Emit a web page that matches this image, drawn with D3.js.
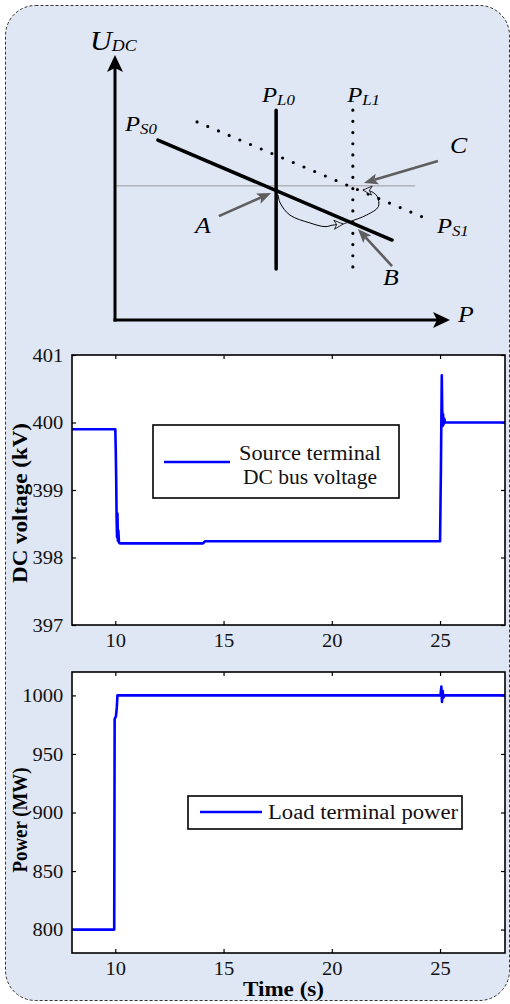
<!DOCTYPE html>
<html><head><meta charset="utf-8">
<script src="https://cdn.jsdelivr.net/npm/d3@7"></script>
<style>body{margin:0;background:#fff} svg{display:block} text{font-family:"Liberation Serif","Times New Roman",serif;}</style>
</head><body>
<script>
// ---------------- Data ----------------
const timeTicks = [10, 15, 20, 25];
const voltTicks = [397, 398, 399, 400, 401];
const powerTicks = [800, 850, 900, 950, 1000];

const voltTime  = [8, 10.0, 10.02, 10.04, 10.06, 10.08, 10.1, 10.12, 10.14, 10.17, 10.22, 14.05, 14.15, 25.0, 25.04, 25.08, 25.1, 25.12, 25.14, 25.16, 25.19, 25.23, 25.3, 28];
const voltValue = [399.9, 399.9, 399.6, 399.2, 398.6, 398.3, 398.65, 398.25, 398.4, 398.22, 398.21, 398.21, 398.24, 398.24, 399.3, 400.7, 400.2, 399.95, 400.12, 399.97, 400.06, 400.0, 400.0, 400.0];

const powerTime  = [8, 9.95, 9.97, 10.03, 10.07, 10.1, 25.02, 25.06, 25.09, 25.12, 25.15, 25.2, 28];
const powerValue = [800, 800, 980, 982, 990, 1000, 1000, 1007.5, 994.5, 1004, 998, 1000, 1000];

const voltLegend = ["Source terminal", "DC bus voltage"];
const powerLegend = ["Load terminal power"];

// ---------------- Schematic (abstract P / U units) ----------------
const loadLines = [
  {name: "L0", p: 48.1, u0: 19.4, u1: 79.8, dotted: false},
  {name: "L1", p: 71.0, u0: 19.4, u1: 79.8, dotted: true}
];
const sourceLines = [
  {name: "S0", p0: 12.8, u0: 68.4, p1: 82.7, u1: 30.4, dotted: false},
  {name: "S1", p0: 24.5, u0: 75.3, p1: 94.0, u1: 38.0, dotted: true}
];
const refLevel = {u: 51.0, p0: 0, p1: 89.6};
const pointerArrows = [
  {name: "A", from: [31.0, 39.5], to: [46.6, 48.3]},
  {name: "B", from: [82.7, 20.5], to: [72.5, 34.6]},
  {name: "C", from: [96.4, 60.5], to: [74.3, 52.1]}
];
const trajectory1 = [[48.7, 47.5], [49.3, 44.5], [52.2, 39.9], [58.2, 36.9], [62.7, 35.5], [65.1, 36.1], [68.1, 36.5]];
const trajectory2 = [[68.1, 36.5], [70.1, 37.4], [75.1, 39.9], [78.6, 43.1], [78.3, 46.9], [76.6, 48.8], [74.0, 49.4]];
const diagramLabels = [
  {main: "U", sub: "DC", p: -7.5, u: 102.7, size: 27, subSize: 16, shift: 1},
  {main: "P", sub: "L0", p: 43.9, u: 82.9, size: 22, subSize: 15, shift: 3},
  {main: "P", sub: "L1", p: 69.3, u: 82.9, size: 22, subSize: 15, shift: 3},
  {main: "P", sub: "S0", p: 3.0, u: 71.9, size: 22, subSize: 15, shift: 3},
  {main: "P", sub: "S1", p: 96.1, u: 33.1, size: 22, subSize: 15, shift: 3},
  {main: "A", sub: "", p: 23.9, u: 33.1, size: 23, subSize: 15, shift: 0},
  {main: "B", sub: "", p: 80.0, u: 13.3, size: 23, subSize: 15, shift: 0},
  {main: "C", sub: "", p: 100.0, u: 63.5, size: 23, subSize: 15, shift: 0},
  {main: "P", sub: "", p: 102.4, u: -0.8, size: 23, subSize: 15, shift: 0}
];

// ---------------- Drawing ----------------
const W = 510, H = 1004;
const BG = "#dfe6f4";
const SERIF = '"Liberation Serif","Times New Roman",serif';
const STRETCH = 1.12;
const svg = d3.select("body").append("svg").attr("width", W).attr("height", H);
svg.append("rect").attr("width", W).attr("height", H).attr("fill", "#fff");
svg.append("rect").attr("x", 5.5).attr("y", 5.5).attr("width", 504).attr("height", 995)
  .attr("rx", 30).attr("ry", 30).attr("fill", BG)
  .attr("stroke", "#333").attr("stroke-width", 1).attr("stroke-dasharray", "3,2");

const defs = svg.append("defs");
function marker(id, path, refX, w, h, fill, stroke) {
  const m = defs.append("marker").attr("id", id).attr("markerUnits", "userSpaceOnUse")
    .attr("viewBox", `-2 ${-h/2-1} ${w+4} ${h+2}`).attr("markerWidth", w + 4).attr("markerHeight", h + 2)
    .attr("refX", refX).attr("refY", 0).attr("orient", "auto");
  m.append("path").attr("d", path).attr("fill", fill).attr("stroke", stroke || "none").attr("stroke-width", 0.8);
}
marker("axisHead", "M0,-8 L17,0 L0,8 L4,0 Z", 4, 17, 16, "#000");
marker("grayHead", "M0,-5.5 L14,0 L0,5.5 L3,0 Z", 3, 14, 11, "#5e5e5e");
marker("openHead", "M0,-4.5 L9,0 L0,4.5 L2.5,0 Z", 9, 9, 9, BG, "#000");

const sx = d3.scaleLinear().domain([0, 100]).range([115, 450]);
const sy = d3.scaleLinear().domain([0, 100]).range([320, 57]);
const dg = svg.append("g");

function shortened(x1, y1, x2, y2, d) {
  const L = Math.hypot(x2 - x1, y2 - y1);
  return [x2 - (x2 - x1) * d / L, y2 - (y2 - y1) * d / L];
}
dg.append("line").attr("x1", sx(refLevel.p0)).attr("x2", sx(refLevel.p1))
  .attr("y1", sy(refLevel.u)).attr("y2", sy(refLevel.u)).attr("stroke", "#9a9a9a").attr("stroke-width", 1);
{
  const e = shortened(sx(0), sy(0), sx(0), 55, 13);
  dg.append("line").attr("x1", sx(0)).attr("y1", sy(0)+1.5).attr("x2", e[0]).attr("y2", e[1])
    .attr("stroke", "#000").attr("stroke-width", 3).attr("marker-end", "url(#axisHead)");
  const f = shortened(sx(0), sy(0), 450, sy(0), 13);
  dg.append("line").attr("x1", sx(0)-1.5).attr("y1", sy(0)).attr("x2", f[0]).attr("y2", f[1])
    .attr("stroke", "#000").attr("stroke-width", 3).attr("marker-end", "url(#axisHead)");
}
dg.selectAll(".ll").data(loadLines).join("line")
  .attr("x1", d => sx(d.p)).attr("x2", d => sx(d.p)).attr("y1", d => sy(d.u1)).attr("y2", d => sy(d.u0))
  .attr("stroke", "#000").attr("stroke-width", d => d.dotted ? 3.2 : 3.5)
  .attr("stroke-linecap", "round").attr("stroke-dasharray", d => d.dotted ? "0,11.2" : null);
dg.selectAll(".sl").data(sourceLines).join("line")
  .attr("x1", d => sx(d.p0)).attr("y1", d => sy(d.u0)).attr("x2", d => sx(d.p1)).attr("y2", d => sy(d.u1))
  .attr("stroke", "#000").attr("stroke-width", d => d.dotted ? 3.2 : 3.5)
  .attr("stroke-linecap", "round").attr("stroke-dasharray", d => d.dotted ? "0,11.6" : null);
const traj = d3.line().x(d => sx(d[0])).y(d => sy(d[1])).curve(d3.curveCatmullRom);
[trajectory1, trajectory2].forEach(t => {
  dg.append("path").attr("d", traj(t)).attr("fill", "none").attr("stroke", "#000").attr("stroke-width", 1)
    .attr("marker-end", "url(#openHead)");
});
pointerArrows.forEach(a => {
  const x1 = sx(a.from[0]), y1 = sy(a.from[1]), x2 = sx(a.to[0]), y2 = sy(a.to[1]);
  const e = shortened(x1, y1, x2, y2, 11);
  dg.append("line").attr("x1", x1).attr("y1", y1).attr("x2", e[0]).attr("y2", e[1])
    .attr("stroke", "#5e5e5e").attr("stroke-width", 2.6).attr("marker-end", "url(#grayHead)");
});
diagramLabels.forEach(l => {
  const t = dg.append("text").attr("transform", `translate(${sx(l.p)},${sy(l.u)}) scale(${STRETCH},1)`)
    .attr("font-style", "italic").attr("font-size", l.size).attr("fill", "#000");
  t.append("tspan").text(l.main);
  if (l.sub) t.append("tspan").attr("font-size", l.subSize).attr("dy", l.shift).text(l.sub);
});

// ---------------- Time series charts ----------------
function chart(opt) {
  const x = d3.scaleLinear().domain([8, 28]).range([72, 505]);
  const y = d3.scaleLinear().domain(opt.domain).range([opt.bottom, opt.top]);
  const g = svg.append("g");
  g.append("rect").attr("x", x.range()[0]).attr("y", opt.top).attr("width", x.range()[1] - x.range()[0])
    .attr("height", opt.bottom - opt.top).attr("fill", "#fff");

  const styleAxis = sel => {
    sel.attr("font-family", null).attr("font-size", null);
    sel.select(".domain").remove();
    sel.selectAll(".tick line").attr("stroke", "#000").attr("stroke-width", 1.2);
    sel.selectAll(".tick text").attr("fill", "#111")
      .style("font-family", SERIF).style("font-size", "19px")
      .attr("transform", `scale(${1.08},1)`);
  };
  const fmt = d3.format("d");
  g.append("g").attr("transform", `translate(0,${opt.bottom})`)
    .call(d3.axisBottom(x).tickValues(timeTicks).tickFormat(fmt).tickSizeInner(-4).tickSizeOuter(0).tickPadding(8.5)).call(styleAxis);
  g.append("g").attr("transform", `translate(0,${opt.top})`)
    .call(d3.axisTop(x).tickValues(timeTicks).tickSizeInner(-4).tickSizeOuter(0).tickFormat("")).call(styleAxis);
  g.append("g").attr("transform", `translate(${x.range()[0]},0)`)
    .call(d3.axisLeft(y).tickValues(opt.ticks).tickFormat(fmt).tickSizeInner(-4).tickSizeOuter(0).tickPadding(8)).call(styleAxis);
  g.append("g").attr("transform", `translate(${x.range()[1]},0)`)
    .call(d3.axisRight(y).tickValues(opt.ticks).tickSizeInner(-4).tickSizeOuter(0).tickFormat("")).call(styleAxis);

  const pts = opt.t.map((t, i) => [t, opt.v[i]]);
  g.append("path").attr("d", d3.line().x(d => x(d[0])).y(d => y(d[1]))(pts))
    .attr("fill", "none").attr("stroke", "#0000ff").attr("stroke-width", 2.6).attr("stroke-linejoin", "round");

  g.append("rect").attr("x", x.range()[0]).attr("y", opt.top).attr("width", x.range()[1] - x.range()[0])
    .attr("height", opt.bottom - opt.top).attr("fill", "none").attr("stroke", "#000").attr("stroke-width", 1.6);

  g.append("text").attr("transform", `translate(${opt.ylabX},${opt.ylabY}) rotate(-90)`)
    .attr("text-anchor", "middle").attr("font-weight", "bold").attr("font-size", 20)
    .attr("textLength", opt.ylabLen).attr("lengthAdjust", "spacingAndGlyphs").text(opt.ylabel);

  const L = opt.legend;
  g.append("rect").attr("x", L.x).attr("y", L.y).attr("width", L.w).attr("height", L.h)
    .attr("fill", "#fff").attr("stroke", "#000").attr("stroke-width", 1.6);
  g.append("line").attr("x1", L.lx1).attr("x2", L.lx2).attr("y1", L.ly).attr("y2", L.ly)
    .attr("stroke", "#0000ff").attr("stroke-width", 2.6);
  L.lines.forEach((s, i) => {
    g.append("text").attr("x", L.tx).attr("y", L.ty[i]).attr("text-anchor", L.anchor)
      .attr("font-size", 20).attr("fill", "#111")
      .attr("textLength", L.tlen[i]).attr("lengthAdjust", "spacingAndGlyphs").text(s);
  });
  return {x, y, g};
}

chart({
  domain: [397, 401], ticks: voltTicks, top: 355, bottom: 625, t: voltTime, v: voltValue,
  ylabel: "DC voltage (kV)", ylabX: 27, ylabY: 503, ylabLen: 160,
  legend: {x: 153, y: 425, w: 246, h: 73, lx1: 164, lx2: 230, ly: 462, tx: 310, ty: [460, 484],
    anchor: "middle", lines: voltLegend, tlen: [142, 134]}
});
const c2 = chart({
  domain: [780, 1020], ticks: powerTicks, top: 672, bottom: 953, t: powerTime, v: powerValue,
  ylabel: "Power (MW)", ylabX: 27, ylabY: 820, ylabLen: 105,
  legend: {x: 188, y: 796, w: 274, h: 33, lx1: 200, lx2: 262, ly: 812, tx: 268, ty: [819],
    anchor: "start", lines: powerLegend, tlen: [190]}
});
c2.g.append("text").attr("x", 283.5).attr("y", 996).attr("text-anchor", "middle")
  .attr("font-weight", "bold").attr("font-size", 20).attr("textLength", 81).attr("lengthAdjust", "spacingAndGlyphs")
  .text("Time (s)");
</script>
</body></html>
